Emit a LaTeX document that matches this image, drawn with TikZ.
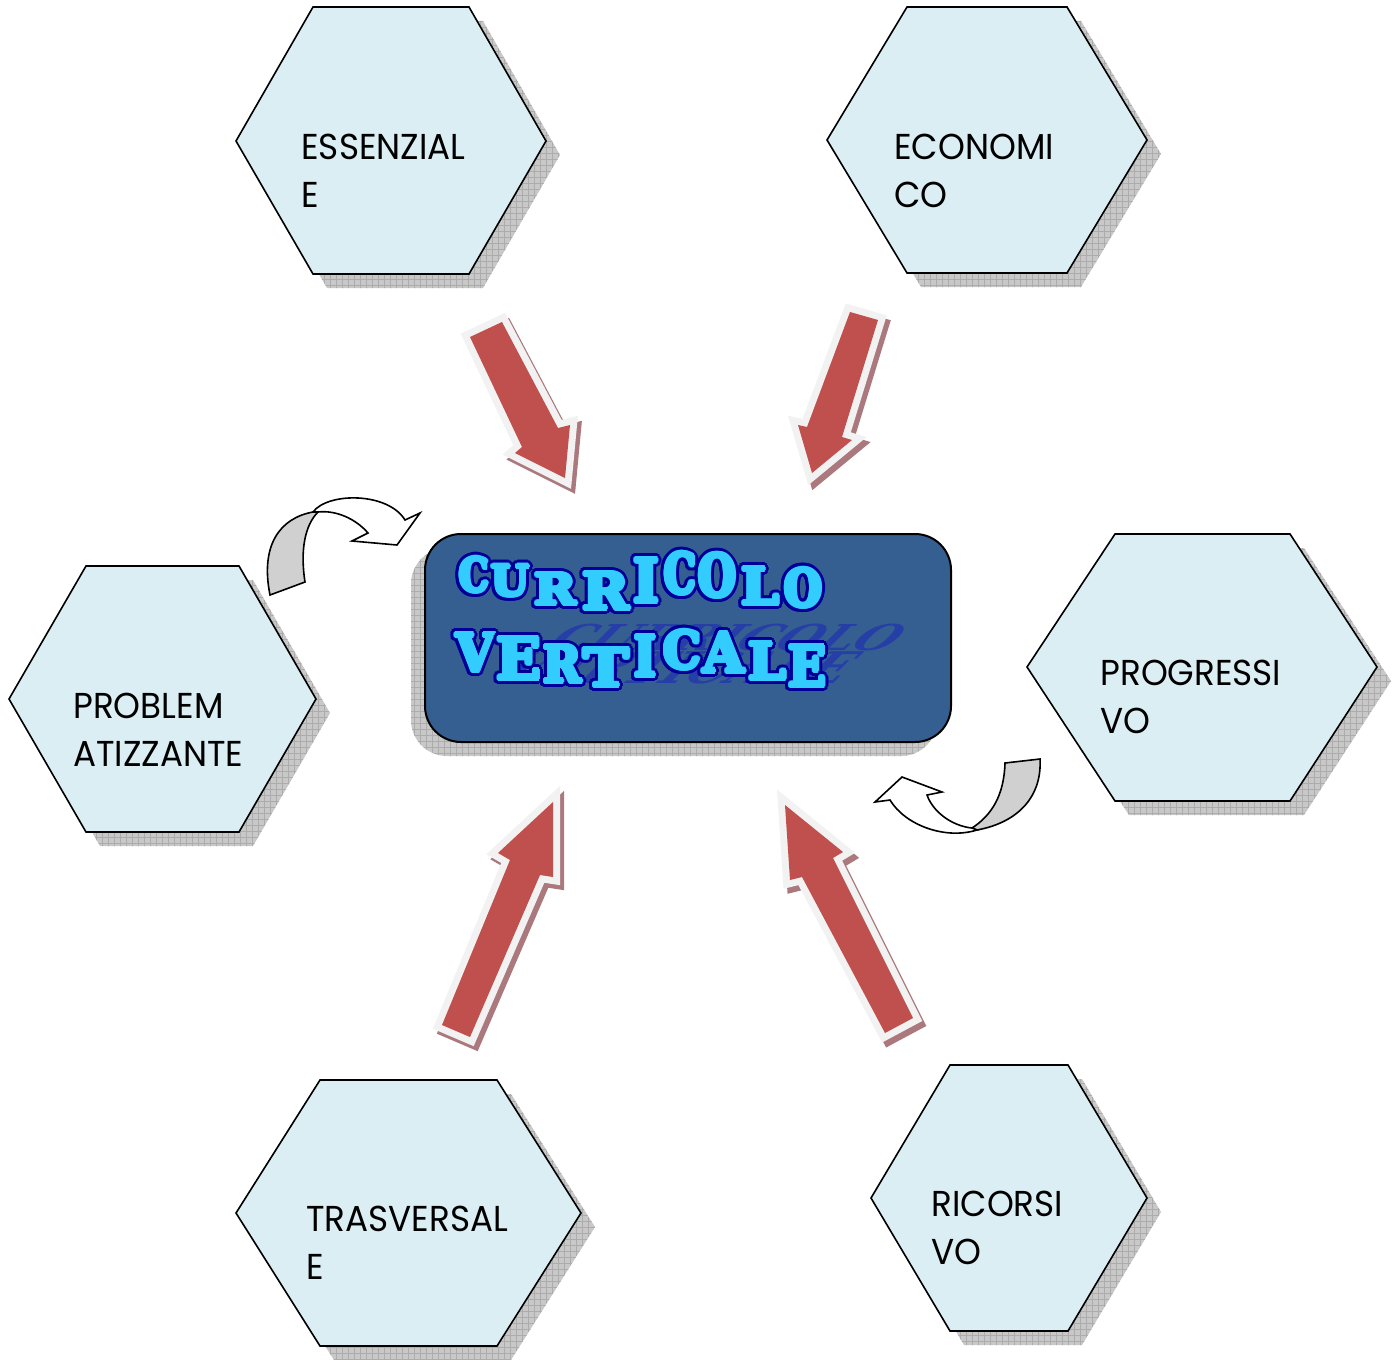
\documentclass[tikz,border=0pt]{standalone}
\usepackage{fontspec}
\usepackage{graphicx}
\usepackage{contour}
\usetikzlibrary{patterns}
\newfontfamily\hexfont{Poppins}[FakeStretch=0.95]
\newfontfamily\wafont{DejaVu Serif Bold}
\definecolor{hexfill}{RGB}{218,238,243}
\definecolor{boxblue}{RGB}{54,95,145}
\definecolor{arrred}{RGB}{192,80,77}
\definecolor{arrborder}{RGB}{242,242,242}
\definecolor{arrshadow}{RGB}{170,120,125}
\definecolor{shadowgray}{RGB}{200,200,200}
\definecolor{walight}{RGB}{51,204,255}
\definecolor{wadark}{RGB}{0,0,153}
\definecolor{wshadow}{RGB}{36,58,170}
\definecolor{curvegray}{RGB}{208,208,208}
\newdimen\pxu \pxu=0.5pt
\tikzset{
  hexagon/.style={draw=black, line width=0.8pt, fill=hexfill, line join=miter},
  hextext/.style={anchor=west, align=left, inner sep=0pt, font=\hexfont\fontsize{18pt}{24pt}\selectfont},
  walet/.style={inner sep=0pt, text=walight, font=\wafont\fontsize{30pt}{30pt}\selectfont},
  washadow/.style={inner sep=0pt, text=wshadow, opacity=0.85, font=\wafont\fontsize{30pt}{30pt}\selectfont},
  ribbon/.style={draw=black, line width=0.8pt, line join=miter},
}
\newcommand\hexa[1]{%
  \fill[shadowgray, shift={(14,14)}] #1;
  \fill[pattern=grid, pattern color=gray!65, shift={(14,14)}] #1;
  \draw[hexagon] #1;}
\newcommand\blockarr[1]{%
  \draw[fill=arrshadow, draw=arrshadow, line width=7pt, line join=miter, shift={(4,5)}] #1;
  \draw[fill=arrborder, draw=arrborder, line width=7pt, line join=miter] #1;
  \fill[arrred] #1;}
% letter, glyph width px, glyph height px: dark fattened glyph under a lightly fattened light glyph
\newcommand\wl[3]{%
  \rlap{\color{wadark}\contourlength{2.5pt}\contournumber{24}\contour{.}{\resizebox*{#2\pxu}{#3\pxu}{#1}}}%
  {\color{walight}\contourlength{1pt}\contournumber{12}\contour{.}{\resizebox*{#2\pxu}{#3\pxu}{#1}}}}
\begin{document}
\begin{tikzpicture}[x=0.5pt, y=-0.5pt]
\fill[white] (0,0) rectangle (1400,1359);
\useasboundingbox (0,0) rectangle (1400,1359);

% hexagons
\hexa{(236,141) -- (313,7) -- (469,7) -- (546,141) -- (469,274) -- (313,274) -- cycle}
\hexa{(827,140) -- (907,7) -- (1067,7) -- (1147,140) -- (1067,273) -- (907,273) -- cycle}
\hexa{(9,699) -- (86,566) -- (239,566) -- (316,699) -- (239,832) -- (86,832) -- cycle}
\hexa{(1027,667) -- (1115,534) -- (1290,534) -- (1377,667) -- (1290,801) -- (1115,801) -- cycle}
\hexa{(236,1213) -- (320,1080) -- (497,1080) -- (581,1213) -- (497,1346) -- (320,1346) -- cycle}
\hexa{(871,1198) -- (950,1065) -- (1068,1065) -- (1147,1198) -- (1068,1331) -- (950,1331) -- cycle}

\node[hextext] (tess) at (301,171) {ESSENZIAL\\E};
\node[hextext] (teco) at (894,171) {ECONOMI\\CO};
\node[hextext] (tpro) at (73,730) {PROBLEM\\ATIZZANTE};
\node[hextext] (tprg) at (1100,697) {PROGRESSI\\VO};
\node[hextext] (ttra) at (306,1243) {TRASVERSAL\\E};
\node[hextext] (tric) at (931,1228) {RICORSI\\VO};

% red block arrows
\blockarr{(470,337) -- (502,322) -- (558,428) -- (570,425) -- (565,478) -- (515,453) -- (522,447) -- cycle}
\blockarr{(850,312) -- (878,320) -- (842,437) -- (852,440) -- (812,473) -- (798,425) -- (807,427) -- cycle}
\blockarr{(442,1025) -- (510,860) -- (498,853) -- (553,802) -- (553,877) -- (540,875) -- (470,1037) -- cycle}
\blockarr{(885,1033) -- (802,877) -- (790,880) -- (785,805) -- (843,852) -- (833,858) -- (913,1018) -- cycle}

% curved arrows
\draw[ribbon, fill=curvegray] (270,595) -- (305,582) .. controls (300,550) and (305,525) .. (318,512) -- (313,512) .. controls (280,518) and (260,545) .. (270,595) -- cycle;
\draw[ribbon, fill=white] (313,512) .. controls (328,492) and (388,492) .. (405,520) -- (420,513) -- (397,545) -- (352,541) -- (368,533) .. controls (355,518) and (335,510) .. (318,512) -- cycle;
\draw[ribbon, fill=curvegray] (1005,763) -- (1040,759) .. controls (1042,795) and (1020,822) .. (977,830) -- (972,828) .. controls (992,815) and (1004,795) .. (1005,763) -- cycle;
\draw[ribbon, fill=white] (977,830) .. controls (945,840) and (905,825) .. (890,800) -- (875,802) -- (902,777) -- (942,792) -- (927,795) .. controls (933,812) and (952,826) .. (972,828) -- cycle;

% central box
\fill[shadowgray, rounded corners=18pt] (411,548) rectangle (937,756);
\fill[pattern=grid, pattern color=gray!65, rounded corners=18pt] (411,548) rectangle (937,756);
\node[draw=black, line width=1pt, fill=boxblue, rounded corners=18pt, minimum width=263pt, minimum height=104pt, inner sep=0pt] (cv) at (688,638) {};

% word art shadow
\begin{scope}[shift={(729,637)}, xslant=1.0]
  \node[washadow, transform shape] (sh1) {\resizebox*{345\pxu}{27\pxu}{CURRICOLO}};
\end{scope}
\begin{scope}[shift={(680,668)}, xslant=1.0]
  \node[washadow, transform shape] (sh2) {\resizebox*{345\pxu}{33\pxu}{VERTICALE}};
\end{scope}

% word art letters
\node[walet] (l1) at (474,577.5) {\wl{C}{30}{35}};
\node[walet] (l2) at (510,583.5) {\wl{U}{38}{31}};
\node[walet] (l3) at (555,591.5) {\wl{R}{42}{31}};
\node[walet] (l4) at (605.5,593.5) {\wl{R}{47}{37}};
\node[walet] (l5) at (646,583) {\wl{I}{26}{44}};
\node[walet] (l6) at (680,576) {\wl{C}{32}{42}};
\node[walet] (l7) at (717,578) {\wl{O}{38}{44}};
\node[walet] (l8) at (760,588.5) {\wl{L}{38}{37}};
\node[walet] (l9) at (803,590.5) {\wl{O}{38}{39}};

\node[walet] (m1) at (475,655) {\wl{V}{38}{38}};
\node[walet] (m2) at (518.5,661) {\wl{E}{45}{42}};
\node[walet] (m3) at (562,666.5) {\wl{R}{38}{37}};
\node[walet] (m4) at (606,670) {\wl{T}{46}{38}};
\node[walet] (m5) at (645,658.5) {\wl{I}{22}{41}};
\node[walet] (m6) at (682,652.5) {\wl{C}{38}{39}};
\node[walet] (m7) at (723.5,655) {\wl{A}{41}{40}};
\node[walet] (m8) at (767,663.5) {\wl{L}{38}{37}};
\node[walet] (m9) at (807,668.5) {\wl{E}{38}{41}};
\end{tikzpicture}
\end{document}
